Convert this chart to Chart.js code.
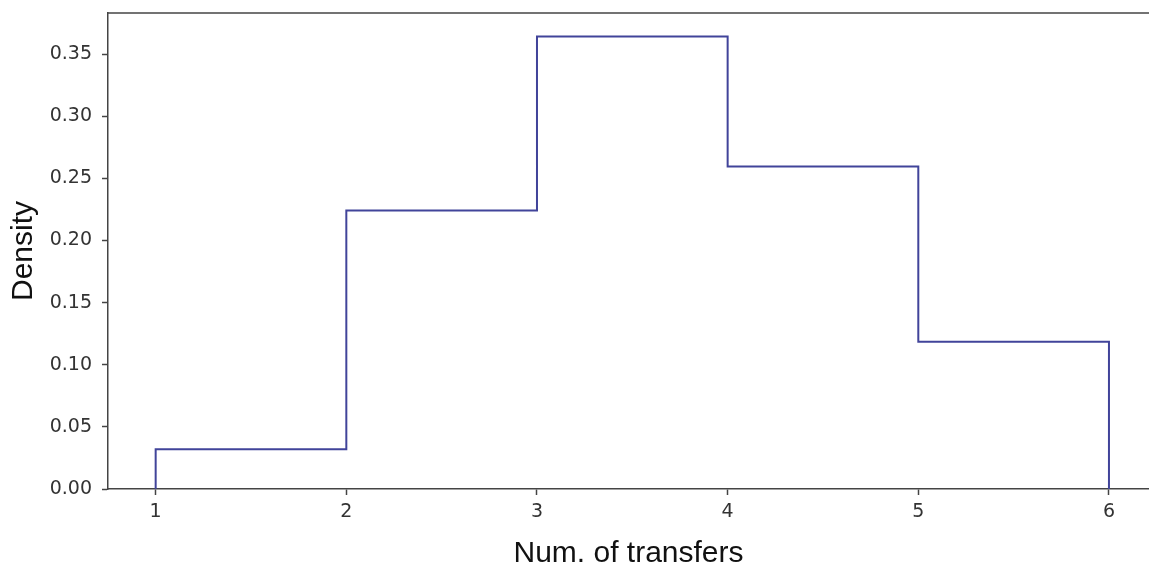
<!DOCTYPE html>
<html>
<head>
<meta charset="utf-8">
<script src="https://cdn.jsdelivr.net/npm/chart.js@4"></script>
<style>
  html, body { margin: 0; padding: 0; background: #fff; overflow: hidden; }
  #wrap { width: 1149px; height: 569px; position: relative; }
</style>
</head>
<body>
<div id="wrap"><canvas id="histChart"></canvas></div>
<script>
// histogram bin edges and densities
const binEdges = [1, 2, 3, 4, 5, 6];
const densities = [0.032, 0.224, 0.364, 0.2595, 0.1185];
const yTicks = [0, 0.05, 0.10, 0.15, 0.20, 0.25, 0.30, 0.35];
const xTicks = [1, 2, 3, 4, 5, 6];

// build the step outline of the histogram
function stepPoints(edges, values) {
    const pts = [{ x: edges[0], y: 0 }];
    values.forEach((v, i) => {
        pts.push({ x: edges[i], y: v });
        pts.push({ x: edges[i + 1], y: v });
    });
    pts.push({ x: edges[edges.length - 1], y: 0 });
    return pts;
}

const axisColor = '#444';
const tickFont = { family: 'DejaVu Sans', size: 19 };
const titleFont = { family: 'Liberation Sans', size: 30, lineHeight: 1.0 };

// top spine (matplotlib style box, right side is cropped off)
const topSpine = {
    id: 'topSpine',
    afterDraw(chart) {
        const { ctx, chartArea } = chart;
        ctx.save();
        ctx.strokeStyle = axisColor;
        ctx.lineWidth = 1.5;
        ctx.beginPath();
        ctx.moveTo(chartArea.left, chartArea.top);
        ctx.lineTo(chart.width, chartArea.top);
        ctx.stroke();
        ctx.restore();
    }
};

new Chart(document.getElementById('histChart'), {
    type: 'line',
    data: {
        datasets: [{
            data: stepPoints(binEdges, densities),
            borderColor: '#41449a',
            borderWidth: 2,
            pointRadius: 0,
            fill: false,
            tension: 0,
            clip: false
        }]
    },
    options: {
        responsive: true,
        maintainAspectRatio: false,
        animation: false,
        layout: { padding: { left: 0, top: 13, right: 0, bottom: 0 } },
        plugins: { legend: { display: false }, tooltip: { enabled: false } },
        scales: {
            x: {
                type: 'linear',
                min: 0.75,
                max: 6.21,
                afterBuildTicks: scale => { scale.ticks = xTicks.map(v => ({ value: v })); },
                afterFit: scale => { scale.height = 80; scale.paddingLeft = 0; scale.paddingRight = 0; },
                ticks: { color: '#333', font: tickFont, padding: 6, maxRotation: 0 },
                grid: { drawOnChartArea: false, drawTicks: true, tickLength: 6, tickWidth: 1.5, tickColor: axisColor },
                border: { display: true, color: axisColor, width: 1.5 },
                title: { display: true, text: 'Num. of transfers', color: '#111', font: titleFont, padding: { top: 0, bottom: 0 } }
            },
            y: {
                min: 0,
                max: 0.383,
                afterBuildTicks: scale => { scale.ticks = yTicks.map(v => ({ value: v })); },
                afterFit: scale => { scale.width = 108; scale.paddingTop = 0; scale.paddingBottom = 0; },
                ticks: { color: '#333', font: tickFont, padding: 10, callback: v => v.toFixed(2) },
                grid: { drawOnChartArea: false, drawTicks: true, tickLength: 6, tickWidth: 1.5, tickColor: axisColor },
                border: { display: true, color: axisColor, width: 1.5 },
                title: { display: true, text: 'Density', color: '#111', font: titleFont, padding: { top: 9, bottom: 0 } }
            }
        }
    },
    plugins: [topSpine]
});
</script>
</body>
</html>
